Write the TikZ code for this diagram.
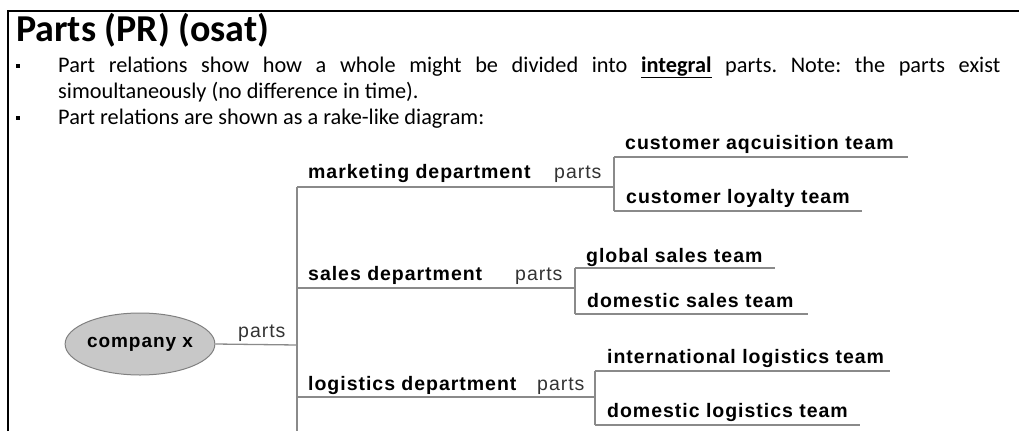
\documentclass[tikz,border=0pt]{standalone}
\usepackage{fontspec}
\setmainfont{Carlito}
\newfontfamily\dfont[LetterSpace=5]{Liberation Sans}
\usetikzlibrary{shapes.geometric}
\definecolor{rakegray}{HTML}{8A8A8A}
\definecolor{ellfill}{HTML}{C8C8C8}
\definecolor{ellline}{HTML}{808080}
\tikzset{
  frameline/.style={line width=2pt,black},
  rake/.style={line width=1.3pt,rakegray},
  body/.style={anchor=base west,inner sep=0pt,font=\fontsize{22.3}{26}\selectfont},
  bulletsq/.style={fill=black,inner sep=0pt,minimum size=4.5pt},
  dept/.style={anchor=base west,inner sep=0pt,font=\dfont\bfseries\fontsize{19.5}{22}\selectfont},
  team/.style={anchor=base west,inner sep=0pt,font=\dfont\bfseries\fontsize{19.5}{22}\selectfont},
  rel/.style={anchor=base west,inner sep=0pt,font=\dfont\fontsize{19.5}{22}\selectfont,text=black!80},
  whole/.style={ellipse,draw=ellline,fill=ellfill,line width=1pt,minimum width=144pt,minimum height=62pt,inner sep=0pt,font=\dfont\bfseries\fontsize{19}{22}\selectfont}
}
\frenchspacing
\begin{document}
\begin{tikzpicture}[x=1pt,y=-1pt]
\useasboundingbox (0,0) rectangle (1019,431);
% frame
\coordinate (fTL) at (7.5,10.5);
\coordinate (fTR) at (1019,10.5);
\coordinate (fBL) at (7.5,431);
\draw[frameline] (fBL) -- (fTL) -- (fTR);
% title and text
\node[anchor=base west,inner sep=0pt,font=\bfseries\fontsize{38}{44}\selectfont] (title) at (16,41) {Parts (PR) (osat)};
\node[bulletsq] (b1) at (18,66) {};
\node[body] (l1) at (58,72) {\frenchspacing\makebox[942pt][s]{Part relations show how a whole might be divided into \underline{\textbf{integral}} parts. Note: the parts exist}};
\node[body] (l2) at (58,98) {simoultaneously (no difference in time).};
\node[bulletsq] (b2) at (18,118) {};
\node[body] (l3) at (58,124) {Part relations are shown as a rake-like diagram:};
% whole
\node[whole] (cx) at (140,344) {company x};
\node[rel] (p0) at (238,337) {parts};
\coordinate (spJ) at (297,345);
\coordinate (spTop) at (297,187);
\coordinate (spBot) at (297,431);
\draw[rake] (cx.east) -- (spJ);
\draw[rake] (spTop) -- (spBot);
% marketing
\node[dept] (mkt) at (308,178) {marketing department};
\node[rel] (mktp) at (554,178) {parts};
\coordinate (mktR) at (614,187);
\coordinate (mktT) at (614,157);
\coordinate (mktB) at (614,211);
\draw[rake] (spTop) -- (mktR);
\draw[rake] (mktT) -- (mktB);
\node[team] (t1) at (625,149) {customer aqcuisition team};
\node[team] (t2) at (626,203) {customer loyalty team};
\coordinate (t1e) at (908,157);
\coordinate (t2e) at (862,211);
\draw[rake] (mktT) -- (t1e);
\draw[rake] (mktB) -- (t2e);
% sales
\node[dept] (sal) at (308,280) {sales department};
\node[rel] (salp) at (515,280) {parts};
\coordinate (salL) at (297,288);
\coordinate (salR) at (575,288);
\coordinate (salT) at (575,268);
\coordinate (salB) at (575,314);
\draw[rake] (salL) -- (salR);
\draw[rake] (salT) -- (salB);
\node[team] (t3) at (586,262) {global sales team};
\node[team] (t4) at (587,307) {domestic sales team};
\coordinate (t3e) at (775,268);
\coordinate (t4e) at (808,314);
\draw[rake] (salT) -- (t3e);
\draw[rake] (salB) -- (t4e);
% logistics
\node[dept] (log) at (308,390) {logistics department};
\node[rel] (logp) at (537,390) {parts};
\coordinate (logL) at (297,397);
\coordinate (logR) at (595,397);
\coordinate (logT) at (595,371);
\coordinate (logB) at (595,425);
\draw[rake] (logL) -- (logR);
\draw[rake] (logT) -- (logB);
\node[team] (t5) at (607,363) {international logistics team};
\node[team] (t6) at (607,417) {domestic logistics team};
\coordinate (t5e) at (890,371);
\coordinate (t6e) at (860,425);
\draw[rake] (logT) -- (t5e);
\draw[rake] (logB) -- (t6e);
\end{tikzpicture}
\end{document}
